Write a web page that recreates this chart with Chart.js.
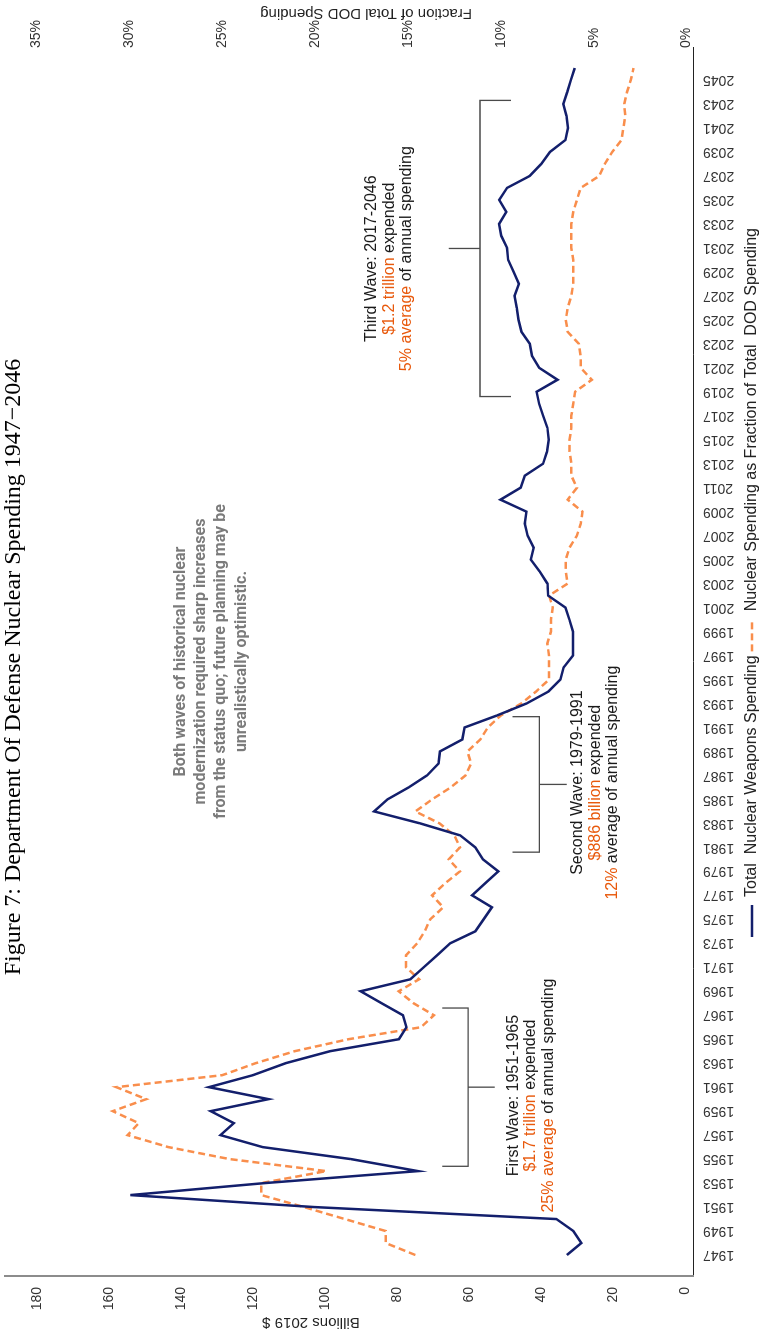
<!DOCTYPE html>
<html>
<head>
<meta charset="utf-8">
<script src="https://cdn.jsdelivr.net/npm/chart.js@4.4.1/dist/chart.umd.min.js"></script>
<style>
    html, body { margin: 0; padding: 0; background: #fff; overflow: hidden; }
    #page { position: relative; width: 764px; height: 1336px; overflow: hidden; }
    #rotated {
        position: absolute; left: 0; top: 0; width: 1336px; height: 764px;
        transform-origin: 0 0; transform: translateY(1336px) rotate(-90deg);
    }
</style>
</head>
<body>
<div id="page"><div id="rotated"><canvas id="nuclear-chart" width="1336" height="764"></canvas></div></div>
<script>
const years = [
    1947, 1948, 1949, 1950, 1951, 1952, 1953, 1954, 1955, 1956,
    1957, 1958, 1959, 1960, 1961, 1962, 1963, 1964, 1965, 1966,
    1967, 1968, 1969, 1970, 1971, 1972, 1973, 1974, 1975, 1976,
    1977, 1978, 1979, 1980, 1981, 1982, 1983, 1984, 1985, 1986,
    1987, 1988, 1989, 1990, 1991, 1992, 1993, 1994, 1995, 1996,
    1997, 1998, 1999, 2000, 2001, 2002, 2003, 2004, 2005, 2006,
    2007, 2008, 2009, 2010, 2011, 2012, 2013, 2014, 2015, 2016,
    2017, 2018, 2019, 2020, 2021, 2022, 2023, 2024, 2025, 2026,
    2027, 2028, 2029, 2030, 2031, 2032, 2033, 2034, 2035, 2036,
    2037, 2038, 2039, 2040, 2041, 2042, 2043, 2044, 2045, 2046
];

// billions of 2019 dollars
const totalSpending = [
    32.9, 28.9, 31.1, 35.8, 103, 154, 116.7, 74.2, 92.8, 117.3,
    129, 125.3, 131.7, 115.7, 132.2, 120, 110.9, 98.6, 79.5, 77.4,
    78.4, 84.3, 90.1, 76.3, 72.6, 68.9, 65.3, 58.3, 56.0, 53.7,
    59.2, 55.6, 51.9, 56.2, 58.3, 62.5, 73.6, 86.4, 82.7, 76.8,
    71.7, 68.5, 68.1, 61.9, 61.3, 52.3, 44.1, 38.0, 34.7, 33.8,
    31.2, 31.2, 31.2, 32.2, 33.3, 38.1, 38.3, 40.4, 42.9, 42.1,
    43.8, 44.6, 44.1, 51.3, 45.7, 44.6, 39.5, 38.4, 37.9, 38.3,
    39.5, 40.6, 41.3, 35.5, 40.6, 42.6, 43.2, 45.5, 46.3, 46.8,
    47.4, 46.2, 47.7, 49.2, 49.5, 51.1, 51.7, 49.7, 51.7, 49.5,
    43.2, 40.0, 37.6, 33.3, 32.6, 33.0, 33.9, 32.8, 31.8, 30.7
];

// percent of total DOD spending
const spendingShare = [
    14.6, 16.2, 16.2, 18.4, 20.6, 22.9, 22.9, 19.4, 24.6, 27.9,
    30.1, 29.5, 30.9, 29.1, 30.7, 25.0, 23.2, 21.1, 18.2, 14.3,
    13.6, 14.7, 15.5, 14.4, 15.1, 15.1, 14.5, 14.1, 13.8, 13.1,
    13.7, 13.0, 12.2, 12.8, 12.2, 12.5, 13.3, 14.6, 13.7, 12.7,
    11.9, 11.6, 11.8, 11.1, 10.7, 10.0, 8.9, 8.1, 7.4, 7.4,
    7.4, 7.5, 7.3, 7.3, 7.2, 7.4, 6.4, 6.5, 6.5, 6.3,
    5.9, 5.7, 5.6, 6.4, 5.9, 6.2, 6.2, 6.3, 6.3, 6.2,
    6.2, 6.1, 6.0, 5.1, 5.7, 5.7, 5.8, 6.4, 6.5, 6.4,
    6.2, 6.1, 6.1, 6.1, 6.2, 6.2, 6.2, 6.1, 5.9, 5.7,
    4.7, 4.4, 4.0, 3.5, 3.4, 3.3, 3.35, 3.2, 3.0, 2.85
];

const yearTicks = years.filter(year => year % 2 === 1);
const billionTicks = [0, 20, 40, 60, 80, 100, 120, 140, 160, 180];
const shareTicks = [0, 5, 10, 15, 20, 25, 30, 35];

const NAVY = '#131f6c';
const ORANGE = '#f98e4c';
const TEXT_ORANGE = '#e8590c';
const DARK = '#1a1a1a';
const NARROW = '"Liberation Sans Narrow", "Arial Narrow", sans-serif';

const waves = [
    { from: 1954.4, to: 1967.6, legEnd: 67.5, base: 60.3, tip: 52.9, textYear: 1960.3, textValue: 47.7,
      lines: [
          [['First Wave: 1951-1965', DARK]],
          [['$1.7 trillion', TEXT_ORANGE], [' expended', DARK]],
          [['25% average', TEXT_ORANGE], [' of annual spending', DARK]]
      ] },
    { from: 1980.6, to: 1991.9, legEnd: 48.0, base: 40.5, tip: 32.9, textYear: 1986.4, textValue: 29.8,
      lines: [
          [['Second Wave: 1979-1991', DARK]],
          [['$886 billion', TEXT_ORANGE], [' expended', DARK]],
          [['12%', TEXT_ORANGE], [' average of annual spending', DARK]]
      ] },
    { from: 2018.6, to: 2043.3, legEnd: 48.4, base: 57.0, tip: 65.7, textYear: 2030.1, textValue: 87.0,
      lines: [
          [['Third Wave: 2017-2046', DARK]],
          [['$1.2 trillion', TEXT_ORANGE], [' expended', DARK]],
          [['5% average', TEXT_ORANGE], [' of annual spending', DARK]]
      ] }
];

const noteLines = [
    'Both waves of historical nuclear',
    'modernization required sharp increases',
    'from the status quo; future planning may be',
    'unrealistically optimistic.'
];

function drawRotated(ctx, text, x, y) {
    ctx.save();
    ctx.translate(x, y);
    ctx.rotate(-Math.PI / 2);
    ctx.fillText(text, 0, 0);
    ctx.restore();
}

function drawRichLine(ctx, parts, cx, cy) {
    const total = parts.reduce((sum, [text]) => sum + ctx.measureText(text).width, 0);
    let x = cx - total / 2;
    ctx.textAlign = 'left';
    parts.forEach(([text, color]) => {
        ctx.fillStyle = color;
        ctx.fillText(text, x, cy);
        x += ctx.measureText(text).width;
    });
}

const annotationPlugin = {
    id: 'annotations',
    afterLayout(chart) {
        // the legend row starts well right of the canvas edge in the original
        const legend = chart.legend;
        legend.left = 395;
        legend.top += 6;
        legend.bottom += 6;
    },
    afterDraw(chart) {
        const { ctx } = chart;
        const x = chart.scales.x;
        const y = chart.scales.y;
        ctx.save();

        ctx.fillStyle = '#000';
        ctx.font = '24px "Liberation Serif", "Times New Roman", serif';
        ctx.textAlign = 'center';
        ctx.textBaseline = 'alphabetic';
        ctx.fillText('Figure 7: Department Of Defense Nuclear Spending 1947\u22122046', 669, 20);

        ctx.fillStyle = '#222';
        ctx.font = '15px ' + NARROW;
        ctx.textBaseline = 'middle';
        drawRotated(ctx, 'Billions 2019 $', 14, 311);
        drawRotated(ctx, 'Fraction of Total DOD Spending', 1323, 366);

        ctx.fillStyle = '#7b7b7b';
        ctx.font = 'bold 16px Roboto, sans-serif';
        ctx.textAlign = 'center';
        const noteX = x.getPixelForValue(1996.5);
        const noteY = y.getPixelForValue(140);
        noteLines.forEach((line, i) => ctx.fillText(line, noteX, noteY + i * 20.3));

        ctx.strokeStyle = '#4a4a4a';
        ctx.lineWidth = 1.3;
        waves.forEach(wave => {
            const x1 = x.getPixelForValue(wave.from);
            const x2 = x.getPixelForValue(wave.to);
            const xm = (x1 + x2) / 2;
            const yLeg = y.getPixelForValue(wave.legEnd);
            const yBase = y.getPixelForValue(wave.base);
            const yTip = y.getPixelForValue(wave.tip);
            ctx.beginPath();
            ctx.moveTo(x1, yLeg);
            ctx.lineTo(x1, yBase);
            ctx.lineTo(x2, yBase);
            ctx.lineTo(x2, yLeg);
            ctx.moveTo(xm, yBase);
            ctx.lineTo(xm, yTip);
            ctx.stroke();

            ctx.font = '16px ' + NARROW;
            const tx = x.getPixelForValue(wave.textYear);
            const ty = y.getPixelForValue(wave.textValue);
            wave.lines.forEach((parts, i) => drawRichLine(ctx, parts, tx, ty + i * 17.5));
        });

        ctx.restore();
    }
};

new Chart(document.getElementById('nuclear-chart'), {
    type: 'line',
    data: {
        datasets: [
            {
                label: 'Total  Nuclear Weapons Spending',
                data: years.map((year, i) => ({ x: year, y: totalSpending[i] })),
                borderColor: NAVY,
                backgroundColor: NAVY,
                borderWidth: 2.5,
                pointRadius: 0,
                tension: 0,
                yAxisID: 'y'
            },
            {
                label: 'Nuclear Spending as Fraction of Total  DOD Spending',
                data: years.map((year, i) => ({ x: year, y: spendingShare[i] })),
                borderColor: ORANGE,
                backgroundColor: ORANGE,
                borderWidth: 2.5,
                borderDash: [7, 4],
                pointRadius: 0,
                tension: 0,
                yAxisID: 'y2'
            }
        ]
    },
    options: {
        responsive: false,
        animation: false,
        devicePixelRatio: 1,
        layout: { padding: { top: 5, left: 0, right: 0, bottom: 0 } },
        scales: {
            x: {
                type: 'linear',
                min: 1945.25,
                max: 2047.67,
                grid: { display: false, drawTicks: false },
                border: { display: true, color: '#222', width: 1 },
                afterBuildTicks: scale => { scale.ticks = yearTicks.map(value => ({ value })); },
                afterFit: scale => { scale.height = 41; scale.paddingLeft = 0; scale.paddingRight = 0; },
                ticks: {
                    autoSkip: false,
                    minRotation: 90,
                    maxRotation: 90,
                    padding: 10,
                    color: '#333',
                    font: { family: '"Liberation Sans", Arial, sans-serif', size: 14 },
                    callback: value => String(value)
                }
            },
            y: {
                position: 'left',
                min: -2.1,
                max: 188.8,
                grid: { display: false, drawTicks: false },
                border: { display: true, color: '#8c8c8c', width: 2 },
                afterBuildTicks: scale => { scale.ticks = billionTicks.map(value => ({ value })); },
                afterFit: scale => { scale.width = 60; scale.paddingTop = 0; scale.paddingBottom = 0; },
                ticks: {
                    padding: 11,
                    color: '#333',
                    font: { family: '"Liberation Sans", Arial, sans-serif', size: 14 }
                }
            },
            y2: {
                position: 'right',
                min: -0.35,
                max: 36.7,
                grid: { display: false, drawTicks: false },
                border: { display: false },
                afterBuildTicks: scale => { scale.ticks = shareTicks.map(value => ({ value })); },
                afterFit: scale => { scale.width = 48; scale.paddingTop = 0; scale.paddingBottom = 0; },
                ticks: {
                    padding: 0,
                    color: '#333',
                    font: { family: '"Liberation Sans", Arial, sans-serif', size: 14 },
                    callback: value => value + '%'
                }
            }
        },
        plugins: {
            tooltip: { enabled: false },
            legend: {
                position: 'bottom',
                align: 'start',
                labels: {
                    usePointStyle: true,
                    pointStyle: 'line',
                    pointStyleWidth: 32,
                    padding: 4,
                    color: '#222',
                    font: { family: NARROW, size: 16 },
                    generateLabels: chart => {
                        const items = Chart.defaults.plugins.legend.labels.generateLabels(chart);
                        items.forEach((item, i) => {
                            const dataset = chart.data.datasets[i];
                            item.lineDash = dataset.borderDash || [];
                            item.lineWidth = dataset.borderWidth;
                            item.strokeStyle = dataset.borderColor;
                        });
                        return items;
                    }
                }
            }
        }
    },
    plugins: [annotationPlugin]
});
</script>
</body>
</html>
